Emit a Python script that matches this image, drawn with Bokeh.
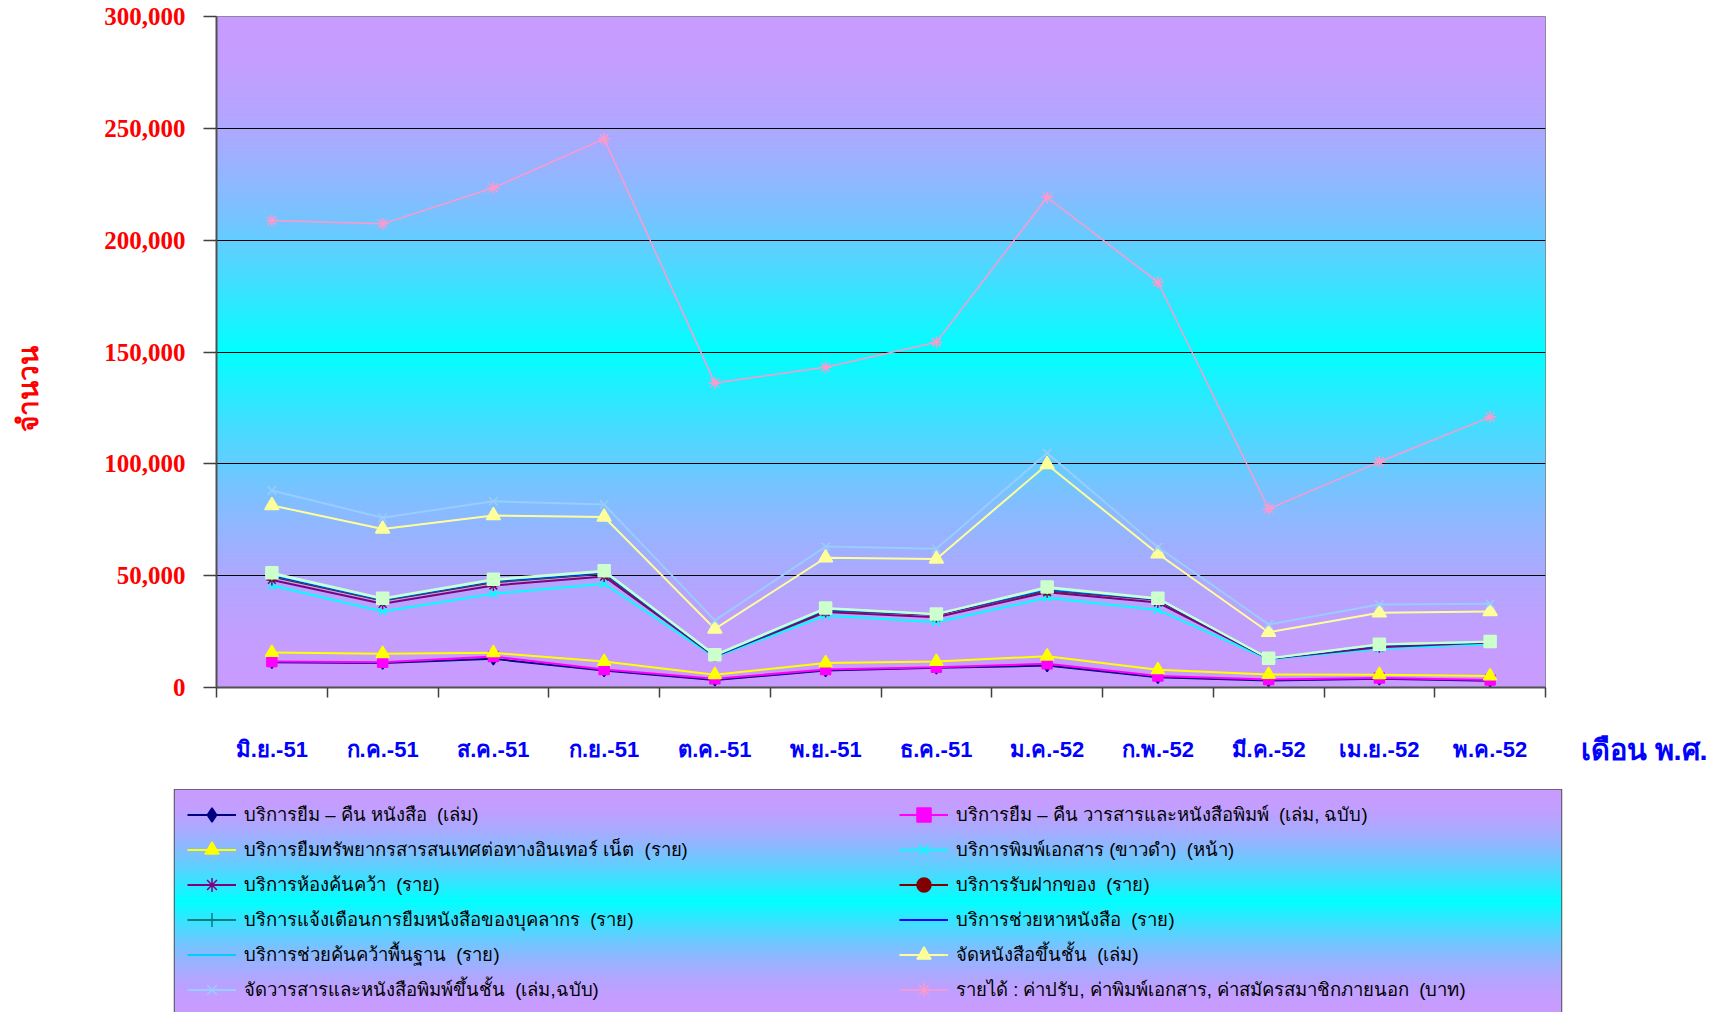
import numpy as np
from bokeh.plotting import figure
from bokeh.models import (Range1d, FixedTicker, Label, Legend, LegendItem,
                          NumeralTickFormatter, CustomJSTickFormatter)
from bokeh.layouts import column, row
from bokeh.embed import file_html
from bokeh.resources import INLINE

# ---------------- data ----------------
months = ["มิ.ย.-51", "ก.ค.-51", "ส.ค.-51", "ก.ย.-51", "ต.ค.-51", "พ.ย.-51",
          "ธ.ค.-51", "ม.ค.-52", "ก.พ.-52", "มี.ค.-52", "เม.ย.-52", "พ.ค.-52"]

y_ticks = [0, 50000, 100000, 150000, 200000, 250000, 300000]

# individual series (stacked line chart, values per month)
borrow_books = [11300, 10900, 12800, 7600, 3400, 7600, 8800, 9800, 4600, 3100, 3900, 3000]
borrow_journals = [300, 400, 1100, 400, 500, 400, 300, 800, 500, 500, 400, 400]
internet = [4000, 3800, 1600, 3600, 1800, 3000, 2500, 3400, 2800, 2200, 1400, 1700]
printing = [30000, 18900, 26400, 34800, 7900, 21200, 17600, 26100, 26800, 6800, 11600, 14400]
study_rooms = [2500, 3400, 3700, 3200, 300, 1500, 2200, 2500, 3300, 200, 700, 600]
deposit = [1500, 1500, 1500, 1200, 100, 700, 1100, 800, 1200, 200, 800, 200]
notify = [400, 200, 300, 300, 100, 300, 100, 300, 200, 0, 100, 100]
find_books = [300, 200, 300, 300, 100, 200, 100, 300, 100, 0, 100, 0]
basic_research = [300, 200, 200, 300, 100, 200, 100, 300, 100, 0, 100, 0]
hidden_a = [300, 200, 200, 200, 100, 200, 0, 300, 100, 0, 100, 100]
hidden_b = [400, 200, 300, 300, 200, 200, 100, 300, 200, 100, 100, 100]
shelve_books = [30100, 31000, 28500, 24000, 11600, 22500, 24600, 54800, 19900, 11600, 14100, 13400]
shelve_journals = [6700, 5000, 6400, 5600, 3800, 5000, 4500, 5100, 2900, 3500, 3700, 3400]
income = [120700, 131400, 140100, 163500, 106100, 80200, 92400, 114400, 118500, 51700, 63800, 83500]

series_names = [
    "บริการยืม – คืน หนังสือ  (เล่ม)",
    "บริการยืม – คืน วารสารและหนังสือพิมพ์  (เล่ม, ฉบับ)",
    "บริการยืมทรัพยากรสารสนเทศต่อทางอินเทอร์ เน็ต  (ราย)",
    "บริการพิมพ์เอกสาร (ขาวดำ)  (หน้า)",
    "บริการห้องค้นคว้า  (ราย)",
    "บริการรับฝากของ  (ราย)",
    "บริการแจ้งเตือนการยืมหนังสือของบุคลากร  (ราย)",
    "บริการช่วยหาหนังสือ  (ราย)",
    "บริการช่วยค้นคว้าพื้นฐาน  (ราย)",
    None,
    None,
    "จัดหนังสือขึ้นชั้น  (เล่ม)",
    "จัดวารสารและหนังสือพิมพ์ขึ้นชั้น  (เล่ม,ฉบับ)",
    "รายได้ : ค่าปรับ, ค่าพิมพ์เอกสาร, ค่าสมัครสมาชิกภายนอก  (บาท)",
]
series_values = [borrow_books, borrow_journals, internet, printing, study_rooms,
                 deposit, notify, find_books, basic_research, hidden_a, hidden_b,
                 shelve_books, shelve_journals, income]

y_title = "จำนวน"
x_title = "เดือน  พ.ศ."

# ---------------- styles ----------------
styles = [
    dict(color="#000080", marker="diamond", size=12),
    dict(color="#FF00FF", marker="square", size=10),
    dict(color="#FFFF00", marker="triangle", size=13),
    dict(color="#00FFFF", marker="x", size=11),
    dict(color="#800080", marker="asterisk", size=11),
    dict(color="#800000", marker="circle", size=9),
    dict(color="#008080", marker="cross", size=12),
    dict(color="#0000FF", marker="dash", size=7),
    dict(color="#00CCFF", marker="dash", size=11),
    dict(color="#CCFFFF", marker="diamond", size=11),
    dict(color="#CCFFCC", marker="square", size=12),
    dict(color="#FFFF99", marker="triangle", size=14),
    dict(color="#99CCFF", marker="x", size=12),
    dict(color="#FF99CC", marker="asterisk", size=12),
]
line_widths = [2, 2, 2, 2, 2, 2, 2, 2, 2, 2, 2, 2, 2, 1.5]

PURPLE = (200, 155, 255)
CYAN = (0, 255, 255)


def gradient(n):
    t = (np.arange(n) + 0.5) / n
    d = np.abs(t - 0.5) * 2.0
    f = np.sin(d * np.pi / 2)
    img = np.zeros((n, 1), dtype=np.uint32)
    view = img.view(dtype=np.uint8).reshape((n, 1, 4))
    for k in range(3):
        view[:, 0, k] = np.round(CYAN[k] * (1 - f) + PURPLE[k] * f).astype(np.uint8)
    view[:, 0, 3] = 255
    return img


def blank(width, height):
    f = figure(width=width, height=height, output_backend="svg", toolbar_location=None,
               x_axis_type=None, y_axis_type=None, min_border=0,
               x_range=Range1d(0, 1), y_range=Range1d(0, 1))
    f.frame_align = False
    f.grid.visible = False
    f.outline_line_color = None
    f.background_fill_color = "white"
    f.border_fill_color = "white"
    return f


# ---------------- geometry (page pixels) ----------------
TOTAL_W = 1716
HA = 789                 # height of the chart row
W_LEFT = 60              # column holding the y title
W_RIGHT = 141            # column holding the x title
W_MAIN = TOTAL_W - W_LEFT - W_RIGHT

# ---------------- main chart ----------------
n_cat = len(months)
xs = np.arange(n_cat) + 0.5
stack = np.cumsum(np.array(series_values, dtype=float), axis=0)

p = figure(width=W_MAIN, height=HA, output_backend="svg", toolbar_location=None,
           x_range=Range1d(0, n_cat), y_range=Range1d(y_ticks[0], y_ticks[-1]),
           min_border_left=216 - W_LEFT, min_border_right=W_LEFT + W_MAIN - 1545,
           min_border_top=16, min_border_bottom=HA - 687)
p.frame_align = False
p.background_fill_color = "white"
p.border_fill_color = "white"
p.outline_line_color = "#808080"
p.outline_line_width = 1

p.image_rgba(image=[gradient(671)], x=0, y=y_ticks[0], dw=n_cat,
             dh=y_ticks[-1] - y_ticks[0], level="image")

for i, vals in enumerate(stack):
    st = styles[i]
    p.line(xs, vals, line_color=st["color"], line_width=line_widths[i])
    p.scatter(xs, vals, marker=st["marker"], size=st["size"],
              fill_color=st["color"], line_color=st["color"], line_width=1.5)

# y axis
p.yaxis.ticker = FixedTicker(ticks=y_ticks)
p.yaxis.formatter = NumeralTickFormatter(format="0,0")
p.yaxis.axis_line_color = "#505050"
p.yaxis.axis_line_width = 2
p.yaxis.major_tick_out = 13
p.yaxis.major_tick_in = 0
p.yaxis.major_tick_line_color = "#404040"
p.yaxis.major_tick_line_width = 1.5
p.yaxis.minor_tick_line_color = None
p.yaxis.major_label_text_color = "#FF0000"
p.yaxis.major_label_text_font = "Liberation Serif"
p.yaxis.major_label_text_font_style = "bold"
p.yaxis.major_label_text_font_size = "25px"
p.yaxis.major_label_standoff = 18

# x axis: labels at centres, tick marks at category boundaries
p.xaxis.ticker = FixedTicker(ticks=list(xs), minor_ticks=list(range(n_cat + 1)))
p.xaxis.formatter = CustomJSTickFormatter(args=dict(labels=months),
                                          code="return labels[Math.floor(tick)];")
p.xaxis.axis_line_color = "#505050"
p.xaxis.axis_line_width = 2
p.xaxis.major_tick_out = 0
p.xaxis.major_tick_in = 0
p.xaxis.minor_tick_out = 10
p.xaxis.minor_tick_in = 0
p.xaxis.minor_tick_line_color = "#404040"
p.xaxis.minor_tick_line_width = 1.5
p.xaxis.major_label_text_color = "#0000FF"
p.xaxis.major_label_text_font_style = "bold"
p.xaxis.major_label_text_font_size = "22px"
p.xaxis.major_label_standoff = 39

p.xgrid.visible = False
p.ygrid.ticker = FixedTicker(ticks=y_ticks)
p.ygrid.grid_line_color = "black"
p.ygrid.grid_line_width = 1

# y title column (left) and x title column (right)
pl = blank(W_LEFT, HA)
pl.add_layout(Label(x=28, y=HA - 388, x_units="screen", y_units="screen", text=y_title,
                    angle=np.pi / 2, text_align="center", text_baseline="middle",
                    text_color="#FF0000", text_font_style="bold", text_font_size="28px"))
pr = blank(W_RIGHT, HA)
pr.add_layout(Label(x=1580 - (W_LEFT + W_MAIN), y=HA - 749, x_units="screen",
                    y_units="screen", text=x_title,
                    text_align="left", text_baseline="middle",
                    text_color="#0000FF", text_font_style="bold", text_font_size="29px"))

# ---------------- legend panel ----------------
HB = 1012 - HA
pb = figure(width=TOTAL_W, height=HB, output_backend="svg", toolbar_location=None,
            x_range=Range1d(0, 1), y_range=Range1d(0, 1),
            x_axis_type=None, y_axis_type=None,
            min_border_left=174, min_border_right=TOTAL_W - 1561, min_border_top=0,
            min_border_bottom=0)
pb.frame_align = False
pb.grid.visible = False
pb.outline_line_color = "#505050"
pb.outline_line_width = 1.5
pb.image_rgba(image=[gradient(HB)], x=0, y=0, dw=1, dh=1, level="image")

items = []
for i, name in enumerate(series_names):
    if name is None:
        continue
    st = styles[i]
    # same series, outside this panel's visible range: only the legend glyph shows
    rl = pb.line(xs, stack[i], line_color=st["color"], line_width=line_widths[i])
    rm = pb.scatter(xs, stack[i], marker=st["marker"], size=st["size"],
                    fill_color=st["color"], line_color=st["color"], line_width=1.5)
    items.append(LegendItem(label=name, renderers=[rl, rm]))

left_items = items[0::2]
right_items = items[1::2]
for its, vx in ((left_items, 13), (right_items, 725)):
    lg = Legend(items=its, location=(vx, 5), orientation="vertical",
                background_fill_alpha=0, border_line_color=None,
                padding=0, margin=0, spacing=0,
                glyph_width=49, glyph_height=35, label_height=35,
                label_standoff=8, label_text_font_size="18.5px",
                label_text_color="black", label_text_baseline="middle")
    pb.add_layout(lg, "center")

layout = column(row(pl, p, pr, spacing=0), pb, spacing=0)
open("out.html", "w").write(file_html(layout, INLINE))
